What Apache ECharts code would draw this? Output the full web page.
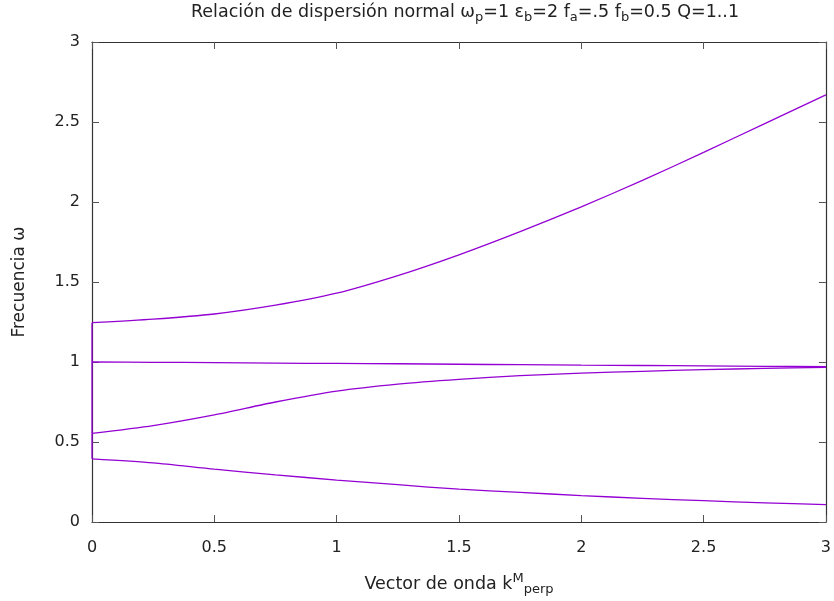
<!DOCTYPE html>
<html>
<head>
<meta charset="utf-8">
<script src="https://cdn.jsdelivr.net/npm/echarts@6/dist/echarts.min.js"></script>
<style>html,body{margin:0;padding:0;background:#fff;}#c{width:834px;height:601px;}</style>
</head>
<body>
<div id="c"></div>
<script>
const kValues = [0, 0.25, 0.5, 0.75, 1.0, 1.25, 1.5, 1.75, 2.0, 2.25, 2.5, 2.75, 3.0];
const branch1 = [1.246, 1.268, 1.30, 1.355, 1.43, 1.54, 1.67, 1.815, 1.97, 2.135, 2.31, 2.49, 2.67];
const branch2 = [1.0, 0.998, 0.996, 0.993, 0.991, 0.989, 0.986, 0.983, 0.98, 0.978, 0.976, 0.973, 0.971];
const branch3 = [0.554, 0.603, 0.67, 0.75, 0.818, 0.862, 0.892, 0.915, 0.93, 0.942, 0.952, 0.96, 0.966];
const branch4 = [0.395, 0.37, 0.33, 0.295, 0.262, 0.233, 0.205, 0.185, 0.165, 0.148, 0.133, 0.12, 0.108];
const edgeK = [0, 0];
const edgeW = [0.395, 1.246];
const xTicks = ['0', '0.5', '1', '1.5', '2', '2.5', '3'];
const yTicks = ['0', '0.5', '1', '1.5', '2', '2.5', '3'];

const FONT = 'DejaVu Sans';
const TXT = '#222';
const LINE = '#9400d3';

function pairs(xs, ys) { return xs.map((x, i) => [x, ys[i]]); }
function lineSeries(data) {
  return { type: 'line', data: data, showSymbol: false, symbol: 'none',
    smooth: 0.25,
    lineStyle: { color: LINE, width: 1.3 }, animation: false, silent: true };
}
const norm = { fontFamily: FONT, fontSize: 17.5, fontWeight: 'normal', color: TXT, lineHeight: 24, verticalAlign: 'middle' };
const sub = { fontFamily: FONT, fontSize: 13, fontWeight: 'normal', color: TXT, lineHeight: 12, verticalAlign: 'bottom' };
const sup = { fontFamily: FONT, fontSize: 13, fontWeight: 'normal', color: TXT, lineHeight: 12, verticalAlign: 'top' };

const axisCommon = {
  type: 'value', min: 0, max: 3, interval: 0.5,
  axisLine: { show: true, onZero: false, lineStyle: { color: '#333', width: 1.2 } },
  axisTick: { show: true, inside: true, length: 7, lineStyle: { color: '#555', width: 1 } },
  splitLine: { show: false }
};

const chart = echarts.init(document.getElementById('c'));
chart.setOption({
  backgroundColor: '#fff',
  animation: false,
  title: {
    left: 460, top: -5, textAlign: 'center',
    text: '{n|Relación de dispersión normal ω}{s|p}{n|=1 ε}{s|b}{n|=2 f}{s|a}{n|=.5 f}{s|b}{n|=0.5 Q=1..1}',
    textStyle: { fontWeight: 'normal', rich: { n: norm, s: sub } }
  },
  grid: { left: 92, right: 6, top: 42, bottom: 79 },
  xAxis: [
    Object.assign({}, axisCommon, {
      position: 'bottom',
      axisLabel: { show: true, fontFamily: FONT, fontSize: 16, color: TXT, margin: 18,
        formatter: (v) => xTicks[Math.round(v * 2)] },
      name: '{n|Vector de onda k}{p|M}{s|perp}',
      nameLocation: 'middle', nameGap: 50,
      nameTextStyle: { rich: { n: norm, p: sup, s: sub } }
    }),
    Object.assign({}, axisCommon, { position: 'top', axisLabel: { show: false } })
  ],
  yAxis: [
    Object.assign({}, axisCommon, {
      position: 'left',
      axisLabel: { show: true, fontFamily: FONT, fontSize: 16, color: TXT, margin: 12,
        formatter: (v) => yTicks[Math.round(v * 2)] },
      name: 'Frecuencia ω', nameLocation: 'middle', nameGap: 64, nameRotate: 90,
      nameTextStyle: { fontFamily: FONT, fontSize: 17, color: TXT }
    }),
    Object.assign({}, axisCommon, { position: 'right', axisLabel: { show: false } })
  ],
  series: [
    lineSeries(pairs(kValues, branch1)),
    lineSeries(pairs(kValues, branch2)),
    lineSeries(pairs(kValues, branch3)),
    lineSeries(pairs(kValues, branch4)),
    lineSeries(pairs(edgeK, edgeW))
  ]
});
</script>
</body>
</html>
